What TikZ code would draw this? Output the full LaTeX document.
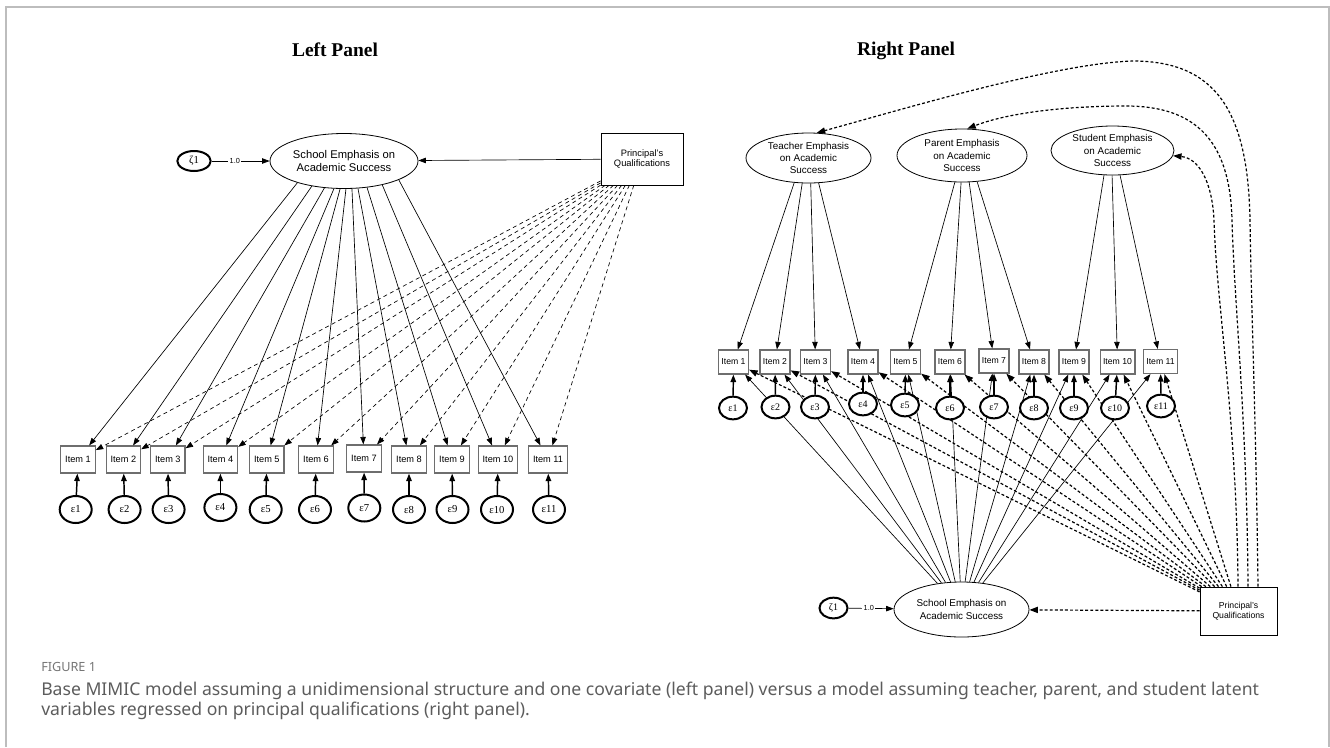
\documentclass[tikz,border=0pt]{standalone}
\usepackage{fontspec}
\setmainfont{Liberation Sans}
\newfontfamily\timesfont{Liberation Serif}
\newfontfamily\capfont{Noto Sans}
\usetikzlibrary{arrows.meta}
\usetikzlibrary{calc}
\usetikzlibrary{shapes.geometric}
\definecolor{framegrey}{HTML}{BDBDBD}
\definecolor{capgrey}{HTML}{5C5C5C}
\definecolor{boxgrey}{HTML}{6E6E6E}

\begin{document}
\begin{tikzpicture}[x=0.75pt,y=-0.75pt,
    paneltitle/.style={font=\timesfont\bfseries\fontsize{14.6}{16}\selectfont},
    item/.style={rectangle,draw=boxgrey,line width=0.9pt,minimum width=25pt,minimum height=20.25pt,inner xsep=3.3pt,inner ysep=2pt,font=\fontsize{6.9}{7.5}\selectfont},
    ritem/.style={item,minimum width=21.75pt,minimum height=18pt,inner xsep=2.2pt,font=\fontsize{6.5}{7}\selectfont},
    err/.style={ellipse,draw,line width=1.5pt,fill=white,minimum width=24pt,minimum height=20.25pt,inner sep=0pt,font=\timesfont\fontsize{8}{8.5}\selectfont},
    rerr/.style={err,minimum width=21pt,minimum height=17pt,font=\timesfont\fontsize{7.5}{8}\selectfont},
    latent/.style={ellipse,draw,line width=0.6pt,align=center,inner sep=0pt},
    covar/.style={rectangle,draw,line width=0.6pt,align=center,inner sep=0pt},
    load/.style={arrows = -{Triangle[angle=40:2.1mm]},line width=0.5pt},
    eload/.style={arrows = -{Triangle[angle=40:2.1mm]},line width=1.1pt},
    pdash/.style={load,dash pattern=on 3pt off 2.5pt},
    rdash/.style={arrows = -{Triangle[angle=40:2.4mm]},line width=0.9pt,dash pattern=on 2.2pt off 1.6pt},
    fixlab/.style={fill=white,inner sep=1pt,font=\fontsize{5.5}{6}\selectfont},
  ]

  \useasboundingbox (0,0) rectangle (1330,747);
  % \draw [help lines,step=50] (0,0) grid (1330,747);

  % frame
  \draw[framegrey,line width=1.2pt] (6,747) -- (6,7) -- (1329,7) -- (1329,747);

  % ---------------- left panel ----------------
  \path   (335,50)    node (lt)  [paneltitle] {Left Panel}
          (194,161)   node (z1)  [err,minimum width=25pt,minimum height=15pt] {ζ1}
          (344,161)   node (s1)  [latent,minimum width=111pt,minimum height=41.25pt,font=\fontsize{8.4}{9.5}\selectfont] {School Emphasis on\\Academic Success}
          (642,159)   node (p1)  [covar,minimum width=61.5pt,minimum height=39pt,font=\fontsize{7}{8.2}\selectfont] {Principal's\\Qualifications}
          (78,459.5)    node (li1)  [item] {Item 1}
          (123.4,459.5) node (li2)  [item] {Item 2}
          (167.8,459.5) node (li3)  [item] {Item 3}
          (220.4,459.5) node (li4)  [item] {Item 4}
          (266.8,459.5) node (li5)  [item] {Item 5}
          (316,459.5)   node (li6)  [item] {Item 6}
          (364,458.5)   node (li7)  [item] {Item 7}
          (409,459.5)   node (li8)  [item] {Item 8}
          (452,459.5)   node (li9)  [item] {Item 9}
          (498,459.5)   node (li10) [item] {Item 10}
          (548,459.5)   node (li11) [item] {Item 11};

  \draw[load] (node cs: name =z1) -- node[fixlab,pos=0.4] {1.0} (node cs:name =s1);
  \draw[load] (node cs: name =p1) -- (node cs:name =s1);

  \draw[load] (node cs: name =s1, angle=205) -- (node cs:name =li1);
  \draw[load] (node cs: name =s1, angle=218) -- (node cs:name =li2);
  \draw[load] (node cs: name =s1, angle=234) -- (node cs:name =li3);
  \draw[load] (node cs: name =s1, angle=250) -- (node cs:name =li4);
  \draw[load] (node cs: name =s1, angle=262) -- (node cs:name =li5);
  \draw[load] (node cs: name =s1, angle=274) -- (node cs:name =li6);
  \draw[load] (node cs: name =s1, angle=286) -- (node cs:name =li7);
  \draw[load] (node cs: name =s1, angle=297) -- (node cs:name =li8);
  \draw[load] (node cs: name =s1, angle=311) -- (node cs:name =li9);
  \draw[load] (node cs: name =s1, angle=328) -- (node cs:name =li10);
  \draw[load] (node cs: name =s1, angle=341) -- (node cs:name =li11);

  \draw[pdash] (node cs: name =p1) -- (node cs:name =li1);
  \draw[pdash] (node cs: name =p1) -- (node cs:name =li2);
  \draw[pdash] (node cs: name =p1) -- (node cs:name =li3);
  \draw[pdash] (node cs: name =p1) -- (node cs:name =li4);
  \draw[pdash] (node cs: name =p1) -- (node cs:name =li5);
  \draw[pdash] (node cs: name =p1) -- (node cs:name =li6);
  \draw[pdash] (node cs: name =p1) -- (node cs:name =li7);
  \draw[pdash] (node cs: name =p1) -- (node cs:name =li8);
  \draw[pdash] (node cs: name =p1) -- (node cs:name =li9);
  \draw[pdash] (node cs: name =p1) -- (node cs:name =li10);
  \draw[pdash] (node cs: name =p1) -- (node cs:name =li11);

  \path   (75.7,509.5)  node (le1)  [err] {ε1}
          (124.6,509.5) node (le2)  [err] {ε2}
          (168.6,509.5) node (le3)  [err] {ε3}
          (220.4,507.5) node (le4)  [err] {ε4}
          (265.7,509.5) node (le5)  [err] {ε5}
          (315,509.5)   node (le6)  [err] {ε6}
          (364.3,508)   node (le7)  [err] {ε7}
          (409,509.5)   node (le8)  [err] {ε8}
          (452.5,509.5) node (le9)  [err] {ε9}
          (497,509.5)   node (le10) [err] {ε10}
          (549,509.5)   node (le11) [err] {ε11};

  \draw[eload] (node cs: name =le1) -- (node cs:name =li1);
  \draw[eload] (node cs: name =le2) -- (node cs:name =li2);
  \draw[eload] (node cs: name =le3) -- (node cs:name =li3);
  \draw[eload] (node cs: name =le4) -- (node cs:name =li4);
  \draw[eload] (node cs: name =le5) -- (node cs:name =li5);
  \draw[eload] (node cs: name =le6) -- (node cs:name =li6);
  \draw[eload] (node cs: name =le7) -- (node cs:name =li7);
  \draw[eload] (node cs: name =le8) -- (node cs:name =li8);
  \draw[eload] (node cs: name =le9) -- (node cs:name =li9);
  \draw[eload] (node cs: name =le10) -- (node cs:name =li10);
  \draw[eload] (node cs: name =le11) -- (node cs:name =li11);

  % ---------------- right panel ----------------
  \path   (906,51)     node (rt)  [paneltitle] {Right Panel}
          (808.5,158)  node (tt)  [latent,minimum width=93.75pt,minimum height=37.5pt,font=\fontsize{7.4}{9.1}\selectfont] {Teacher Emphasis\\on Academic\\Success}
          (962,155.5)  node (pt)  [latent,minimum width=97.5pt,minimum height=39.75pt,font=\fontsize{7.4}{9.1}\selectfont] {Parent Emphasis\\on Academic\\Success}
          (1112.5,150.5) node (st) [latent,minimum width=92.25pt,minimum height=36.75pt,font=\fontsize{7.4}{9.1}\selectfont] {Student Emphasis\\on Academic\\Success}
          (961.5,609.5) node (s2) [latent,minimum width=101.25pt,minimum height=41.25pt,font=\fontsize{7.4}{9.2}\selectfont] {School Emphasis on\\Academic Success}
          (833.5,608)  node (z2)  [rerr,minimum width=21pt,minimum height=15.5pt] {ζ1}
          (1238.5,611) node (pr)  [covar,minimum width=57.75pt,minimum height=36pt,font=\fontsize{6.5}{8}\selectfont] {Principal's\\Qualifications}
          (733.5,362)  node (ri1)  [ritem] {Item 1}
          (775,362)    node (ri2)  [ritem] {Item 2}
          (815.5,362)  node (ri3)  [ritem] {Item 3}
          (863,362)    node (ri4)  [ritem] {Item 4}
          (905.5,362)  node (ri5)  [ritem] {Item 5}
          (950,362)    node (ri6)  [ritem] {Item 6}
          (994,361)    node (ri7)  [ritem] {Item 7}
          (1034,362)   node (ri8)  [ritem] {Item 8}
          (1074,362)   node (ri9)  [ritem] {Item 9}
          (1117.5,362) node (ri10) [ritem] {Item 10}
          (1160.5,361.5) node (ri11) [ritem] {Item 11};

  \draw[load] (node cs: name =tt, angle=240) -- (node cs:name =ri1);
  \draw[load] (node cs: name =tt, angle=256) -- (node cs:name =ri2);
  \draw[load] (node cs: name =tt, angle=275) -- (node cs:name =ri3);
  \draw[load] (node cs: name =tt, angle=292) -- (node cs:name =ri4);
  \draw[load] (node cs: name =pt, angle=255) -- (node cs:name =ri5);
  \draw[load] (node cs: name =pt, angle=268) -- (node cs:name =ri6);
  \draw[load] (node cs: name =pt, angle=285) -- (node cs:name =ri7);
  \draw[load] (node cs: name =pt, angle=300) -- (node cs:name =ri8);
  \draw[load] (node cs: name =st, angle=251) -- (node cs:name =ri9);
  \draw[load] (node cs: name =st, angle=269) -- (node cs:name =ri10);
  \draw[load] (node cs: name =st, angle=287) -- (node cs:name =ri11);

  \draw[load] (node cs: name =z2) -- node[fixlab,pos=0.45] {1.0} (node cs:name =s2);
  \draw[rdash] (node cs: name =pr) -- (node cs:name =s2);

  \draw[load] (node cs: name =s2) -- (node cs:name =ri1);
  \draw[load] (node cs: name =s2) -- (node cs:name =ri2);
  \draw[load] (node cs: name =s2) -- (node cs:name =ri3);
  \draw[load] (node cs: name =s2) -- (node cs:name =ri4);
  \draw[load] (node cs: name =s2) -- (node cs:name =ri5);
  \draw[load] (node cs: name =s2) -- (node cs:name =ri6);
  \draw[load] (node cs: name =s2) -- (node cs:name =ri7);
  \draw[load] (node cs: name =s2) -- (node cs:name =ri8);
  \draw[load] (node cs: name =s2) -- (node cs:name =ri9);
  \draw[load] (node cs: name =s2) -- (node cs:name =ri10);
  \draw[load] (node cs: name =s2) -- (node cs:name =ri11);

  \draw[rdash] (node cs: name =pr) -- (node cs:name =ri1);
  \draw[rdash] (node cs: name =pr) -- (node cs:name =ri2);
  \draw[rdash] (node cs: name =pr) -- (node cs:name =ri3);
  \draw[rdash] (node cs: name =pr) -- (node cs:name =ri4);
  \draw[rdash] (node cs: name =pr) -- (node cs:name =ri5);
  \draw[rdash] (node cs: name =pr) -- (node cs:name =ri6);
  \draw[rdash] (node cs: name =pr) -- (node cs:name =ri7);
  \draw[rdash] (node cs: name =pr) -- (node cs:name =ri8);
  \draw[rdash] (node cs: name =pr) -- (node cs:name =ri9);
  \draw[rdash] (node cs: name =pr) -- (node cs:name =ri10);
  \draw[rdash] (node cs: name =pr) -- (node cs:name =ri11);

  % covariate to the three latents
  \draw[rdash] ($(pr.north)+(19.5,0)$) .. controls (1256,420) and (1251,300) .. (1250,220)
               .. controls (1248,110) and (1215,62) .. (1135,61)
               .. controls (1060,62) and (900,110) .. (tt.72);
  \draw[rdash] ($(pr.north)+(9.5,0)$) .. controls (1247,420) and (1234,300) .. (1232,220)
               .. controls (1230,140) and (1195,106) .. (1126,106)
               .. controls (1070,106) and (1010,112) .. (pt.79);
  \draw[rdash] ($(pr.north)+(-0.5,0)$) .. controls (1237,420) and (1216,300) .. (1214,220)
               .. controls (1212,180) and (1198,158) .. (st.355);

  \path   (733,408)    node (re1)  [rerr] {ε1}
          (775.5,407)  node (re2)  [rerr] {ε2}
          (815,407)    node (re3)  [rerr] {ε3}
          (863,404)    node (re4)  [rerr] {ε4}
          (905,405)    node (re5)  [rerr] {ε5}
          (950,408)    node (re6)  [rerr] {ε6}
          (994,407)    node (re7)  [rerr] {ε7}
          (1034,408)   node (re8)  [rerr] {ε8}
          (1074,408)   node (re9)  [rerr] {ε9}
          (1115,408)   node (re10) [rerr] {ε10}
          (1161,406)   node (re11) [rerr] {ε11};

  \draw[eload] (node cs: name =re1) -- (node cs:name =ri1);
  \draw[eload] (node cs: name =re2) -- (node cs:name =ri2);
  \draw[eload] (node cs: name =re3) -- (node cs:name =ri3);
  \draw[eload] (node cs: name =re4) -- (node cs:name =ri4);
  \draw[eload] (node cs: name =re5) -- (node cs:name =ri5);
  \draw[eload] (node cs: name =re6) -- (node cs:name =ri6);
  \draw[eload] (node cs: name =re7) -- (node cs:name =ri7);
  \draw[eload] (node cs: name =re8) -- (node cs:name =ri8);
  \draw[eload] (node cs: name =re9) -- (node cs:name =ri9);
  \draw[eload] (node cs: name =re10) -- (node cs:name =ri10);
  \draw[eload] (node cs: name =re11) -- (node cs:name =ri11);

  % caption
  \path   (41,662) node (fig) [anchor=north west,inner sep=0pt,text=capgrey!85,font=\capfont\fontsize{9.5}{10}\selectfont] {FIGURE 1}
          (41,682) node (cap) [anchor=north west,inner sep=0pt,align=left,text=capgrey,font=\capfont\fontsize{13.2}{14.8}\selectfont]
            {Base MIMIC model assuming a unidimensional structure and one covariate (left panel) versus a model assuming teacher, parent, and student latent\\
             variables regressed on principal qualifications (right panel).};

\end{tikzpicture}
\end{document}
